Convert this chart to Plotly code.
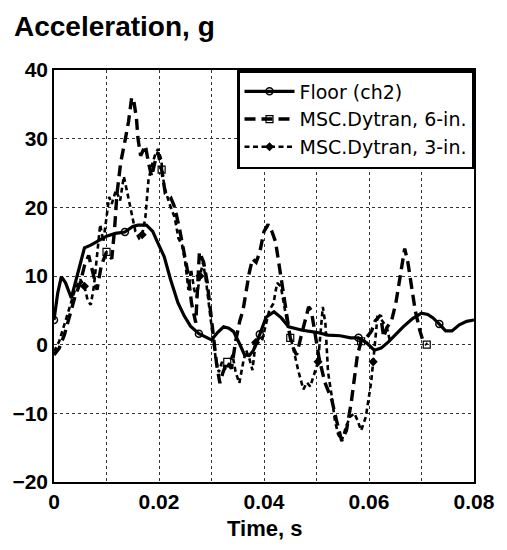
import plotly.graph_objects as go

# ---- data ----
t_floor = [0, 0.0007, 0.0014, 0.0022, 0.0033, 0.0045, 0.0058, 0.007, 0.0086, 0.0100,
           0.0117, 0.0135, 0.0150, 0.0160, 0.0176, 0.0188, 0.0198, 0.0210, 0.0222, 0.0236,
           0.0248, 0.026, 0.0276, 0.0292, 0.0300, 0.0312, 0.0323, 0.0333, 0.0342, 0.0353,
           0.0363, 0.0372, 0.038, 0.0392, 0.0404, 0.0419, 0.0433, 0.0447, 0.046, 0.0473,
           0.0500, 0.0522, 0.0545, 0.0565, 0.058, 0.0595, 0.061, 0.0623, 0.0637, 0.065,
           0.0665, 0.0683, 0.070, 0.0712, 0.0722, 0.0734, 0.0746, 0.0758, 0.0772, 0.0786, 0.080]
a_floor = [3.6, 7.5, 9.9, 9.0, 6.8, 10.5, 14.1, 14.5, 15.2, 15.8,
           16.2, 16.4, 17.2, 17.4, 17.4, 16.5, 14.8, 12.8, 9.5, 6.1,
           4.2, 2.7, 1.6, 1.0, 0.7, 1.8, 2.6, 2.4, 1.9, 0.2,
           -1.5, -1.6, -0.8, 1.5, 4.0, 4.8, 3.9, 2.6, 2.3, 2.1,
           1.8, 1.4, 1.3, 1.0, 1.0, 0.3, -0.8, -0.5, 0.4, 1.5,
           2.6, 3.8, 4.6, 4.4, 3.9, 3.0, 2.0, 2.0, 2.9, 3.4, 3.6]

t_6in = [0, 0.001, 0.002, 0.003, 0.004, 0.005, 0.0058, 0.0066, 0.0074, 0.0082,
         0.009, 0.010, 0.011, 0.0115, 0.012, 0.0127, 0.0136, 0.0142, 0.0148, 0.0152,
         0.0157, 0.016, 0.0165, 0.0174, 0.018, 0.0186, 0.0192, 0.0198, 0.0205, 0.0212,
         0.0222, 0.023, 0.024, 0.0248, 0.0255, 0.0262, 0.027, 0.0277, 0.0285, 0.0292,
         0.0298, 0.0304, 0.031, 0.0316, 0.0322, 0.033, 0.0338, 0.0346, 0.0354, 0.036,
         0.0366, 0.0372, 0.0378, 0.0385, 0.0392, 0.040, 0.0408, 0.0415, 0.0422, 0.0428,
         0.0435, 0.0442, 0.045, 0.0456, 0.0462, 0.047, 0.0478, 0.0485, 0.049, 0.0497,
         0.0505, 0.0516, 0.0529, 0.0538, 0.0548, 0.0557, 0.0566, 0.0572, 0.0578, 0.0585,
         0.0595, 0.0605, 0.0612, 0.0622, 0.0628, 0.0634, 0.0643, 0.0651, 0.0658, 0.0664,
         0.0668, 0.0674, 0.0681, 0.0688, 0.0697, 0.0703, 0.071]
a_6in = [-1.5, -0.5, 1.5, 4.5, 7.0, 9.0, 11.5, 13.0, 10.5, 8.0,
         11.5, 13.5, 12.5, 16.5, 22.0, 26.5, 30.0, 32.5, 36.0, 35.5,
         33.0, 30.0, 27.5, 29.0, 26.5, 24.5, 26.5, 28.0, 25.5, 22.0,
         21.5, 20.0, 16.5, 13.0, 10.5, 6.0, 3.2, 13.5, 12.0, 9.0,
         5.0, 0.5, -3.0, -5.6, -4.0, -2.5, -3.5, 0.5, 3.5, 5.0,
         8.0, 10.5, 12.5, 12.0, 13.5, 16.5, 17.5, 16.5, 15.0, 12.0,
         8.0, 5.0, 1.0, -0.5, -1.5, 1.0, 3.5, 5.5, 5.0, 2.0,
         -2.0, -5.5, -8.0, -11.0, -14.0, -12.5, -8.5, -5.0, -1.5, 0.5,
         1.0, 2.0, 3.5, 4.3, 1.1, 2.5, 3.5, 6.0, 9.5, 12.5,
         14.0, 12.0, 8.5, 5.0, 2.0, 0.5, 0.0]

t_3in = [0.0, 0.001, 0.002, 0.003, 0.004, 0.005, 0.0058, 0.0064, 0.007, 0.0076,
         0.0082, 0.0088, 0.0094, 0.010, 0.0105, 0.011, 0.0118, 0.0126, 0.0133, 0.014,
         0.0148, 0.0155, 0.0162, 0.0168, 0.0174, 0.018, 0.0186, 0.0192, 0.0198, 0.0204,
         0.021, 0.022, 0.023, 0.0237, 0.0244, 0.025, 0.0256, 0.0261, 0.0267, 0.0272,
         0.0278, 0.0284, 0.029, 0.0296, 0.0302, 0.0308, 0.0314, 0.032, 0.0327, 0.0334,
         0.034, 0.0346, 0.0353, 0.036, 0.0366, 0.0372, 0.0378, 0.0384, 0.039, 0.0396,
         0.0404, 0.041, 0.0418, 0.0425, 0.0432, 0.044, 0.0447, 0.0454, 0.046, 0.0466,
         0.0475, 0.0482, 0.0488, 0.0496, 0.0503, 0.0508, 0.0512, 0.0517, 0.0522, 0.0529,
         0.0535, 0.0541, 0.0548, 0.0556, 0.0564, 0.0572, 0.0578, 0.0585, 0.0594, 0.0599,
         0.0604, 0.0608, 0.0612, 0.0616, 0.0622, 0.0628, 0.0634, 0.064]
a_3in = [-1.0, 0.5, 3.0, 5.5, 8.0, 9.5, 8.5, 6.5, 5.8, 8.5,
         13.0, 17.5, 15.0, 19.0, 21.5, 20.5, 22.5, 21.0, 24.5, 22.0,
         19.0, 16.5, 15.5, 16.0, 18.5, 24.0, 26.0, 27.5, 28.5, 27.0,
         23.0, 20.5, 18.5, 15.5, 14.5, 12.0, 8.0, 11.0, 8.0, 7.0,
         10.0, 12.0, 9.0, 5.0, 1.5, -2.0, -4.0, -2.5, -3.7, -2.7,
         -1.5, -4.0, -5.6, -2.7, -0.8, -2.0, -3.7, 0.3, 1.0, 0.5,
         3.0, 5.0, 6.0, 9.0, 8.5, 5.0, 2.0, 0.0, -2.0, -4.0,
         -6.5, -5.5, -6.1, -4.0, -2.5, 2.0, 5.5, 3.0, -4.0, -7.5,
         -11.0, -13.0, -14.0, -12.0, -10.5, -10.0, -11.0, -12.5, -10.5, -8.0,
         -5.5, -2.5, 0.5, 4.0, 3.8, 3.2, 2.5, 0.5]

series_names = ["Floor (ch2)", "MSC.Dytran, 6-in.", "MSC.Dytran, 3-in."]
x_ticks = [0, 0.02, 0.04, 0.06, 0.08]
x_ticktext = ["0", "0.02", "0.04", "0.06", "0.08"]
y_ticks = [-20, -10, 0, 10, 20, 30, 40]

FONT = "Liberation Sans, Arial, Helvetica, sans-serif"
LEG_FONT = "DejaVu Sans, Liberation Sans, sans-serif"

fig = go.Figure()
fig.add_trace(go.Scatter(
    x=t_floor, y=a_floor, mode="lines+markers", name=series_names[0],
    line=dict(color="black", width=3.2),
    marker=dict(symbol="circle-open", size=7, color="black", line=dict(width=1.5), maxdisplayed=6),
))
fig.add_trace(go.Scatter(
    x=t_6in, y=a_6in, mode="lines+markers", name=series_names[1],
    line=dict(color="black", width=3.4, dash="11px,6px"),
    marker=dict(symbol="square-open", size=7, color="black", line=dict(width=1.2), maxdisplayed=6),
))
fig.add_trace(go.Scatter(
    x=t_3in, y=a_3in, mode="lines+markers", name=series_names[2],
    line=dict(color="black", width=2.6, dash="5px,3.5px"),
    marker=dict(symbol="diamond", size=7, color="black", maxdisplayed=6),
))

grid = dict(showgrid=True, gridcolor="#333", gridwidth=1, griddash="dot")

fig.update_layout(
    width=507, height=550,
    margin=dict(l=53, r=25, t=70, b=68),
    paper_bgcolor="white", plot_bgcolor="white",
    font=dict(family=FONT, color="black"),
    showlegend=True,
    legend=dict(
        x=1, xanchor="right", y=1, yanchor="top",
        bgcolor="white", bordercolor="black", borderwidth=2.5,
        font=dict(family=LEG_FONT, size=19, color="black"),
        itemwidth=50, tracegroupgap=0,
    ),
    xaxis=dict(
        range=[0, 0.08], tickvals=x_ticks, ticktext=x_ticktext,
        ticks="", zeroline=False,
        showline=True, mirror=True, linecolor="black", linewidth=1.5,
        tickfont=dict(family=FONT, size=21, weight="bold"),
        minor=dict(dtick=0.01, tick0=0, showgrid=True, gridcolor="#333", gridwidth=1, griddash="dot", ticks=""),
        **grid,
    ),
    yaxis=dict(
        range=[-20, 40], tickvals=y_ticks,
        ticks="", zeroline=False,
        showline=True, mirror=True, linecolor="black", linewidth=1.5,
        tickfont=dict(family=FONT, size=21, weight="bold"),
        **grid,
    ),
    annotations=[
        dict(text="<b>Acceleration, g</b>", xref="paper", yref="paper",
             x=(10 - 53) / 429, y=1 + (70 - 27) / 412, xanchor="left", yanchor="middle",
             showarrow=False, font=dict(family=FONT, size=28, color="black")),
        dict(text="<b>Time, s</b>", xref="paper", yref="paper",
             x=(268 - 53) / 429, y=-(528 - 482) / 412, xanchor="center", yanchor="middle",
             showarrow=False, font=dict(family=FONT, size=22, color="black")),
    ],
)

fig.write_html("out.html")
